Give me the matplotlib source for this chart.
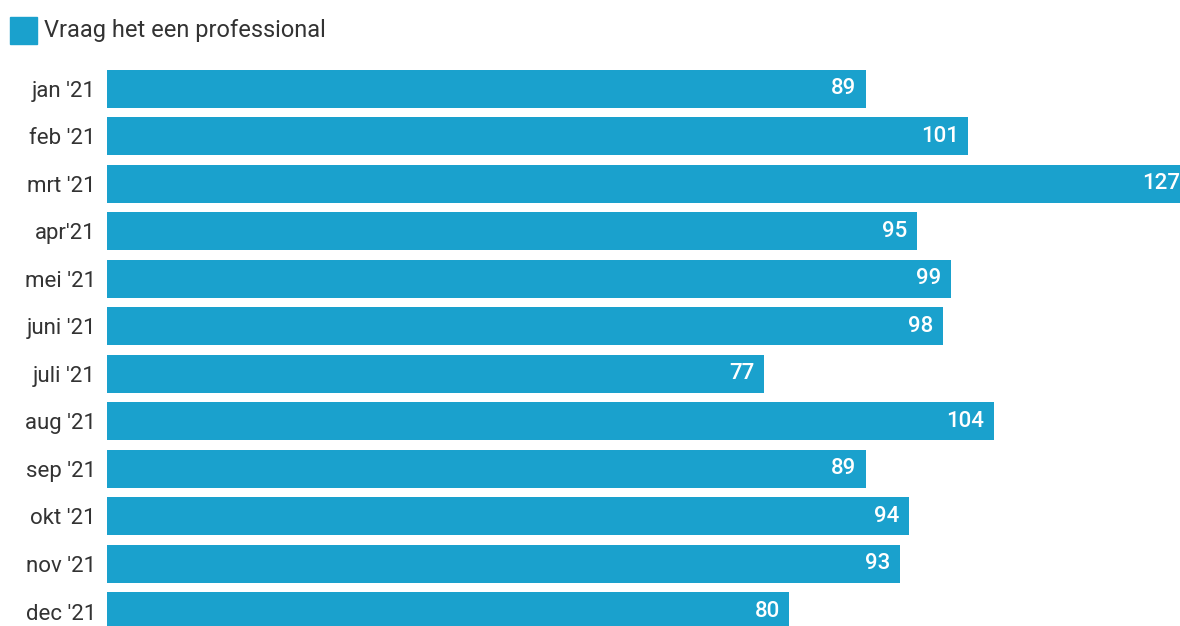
"""Horizontal bar chart: monthly count of 'Vraag het een professional' questions in 2021."""

import matplotlib
matplotlib.use("Agg")
from matplotlib import pyplot as plt
from matplotlib.patches import Rectangle

months = ["jan '21", "feb '21", "mrt '21", "apr'21", "mei '21", "juni '21",
          "juli '21", "aug '21", "sep '21", "okt '21", "nov '21", "dec '21"]
counts = [89, 101, 127, 95, 99, 98, 77, 104, 89, 94, 93, 80]
series_label = "Vraag het een professional"

BAR_COLOR = "#1aa1cd"
TEXT_COLOR = "#333333"

plt.rcParams["font.family"] = ["Roboto", "DejaVu Sans"]

fig = plt.figure(figsize=(11.8, 6.26), dpi=100)
ax = fig.add_axes([107 / 1180, 0, 1 - 107 / 1180, 561 / 626])

ypos = list(range(len(months)))
ax.barh(ypos, counts, height=0.8, color=BAR_COLOR)
ax.set_xlim(0, 125.8)
ax.set_ylim(11.305, -0.5)

for y, v in zip(ypos, counts):
    ax.annotate(str(v), xy=(v, y), xytext=(-7, 0), textcoords="offset points",
                ha="right", va="center", color="white", fontsize=16,
                fontweight="medium", annotation_clip=False)

ax.set_yticks(ypos)
ax.set_yticklabels(months, fontsize=16, color=TEXT_COLOR)
ax.tick_params(axis="y", length=0, pad=8)
ax.set_xticks([])
for s in ax.spines.values():
    s.set_visible(False)

# legend swatch + label, top left
fig.patches.append(Rectangle((10 / 1180, 1 - 44 / 626), 27 / 1180, 27 / 626,
                             transform=fig.transFigure, color=BAR_COLOR))
fig.text(44 / 1180, 1 - 30 / 626, series_label, fontsize=17, color=TEXT_COLOR,
         ha="left", va="center")

fig.savefig("out.png", dpi=100)
